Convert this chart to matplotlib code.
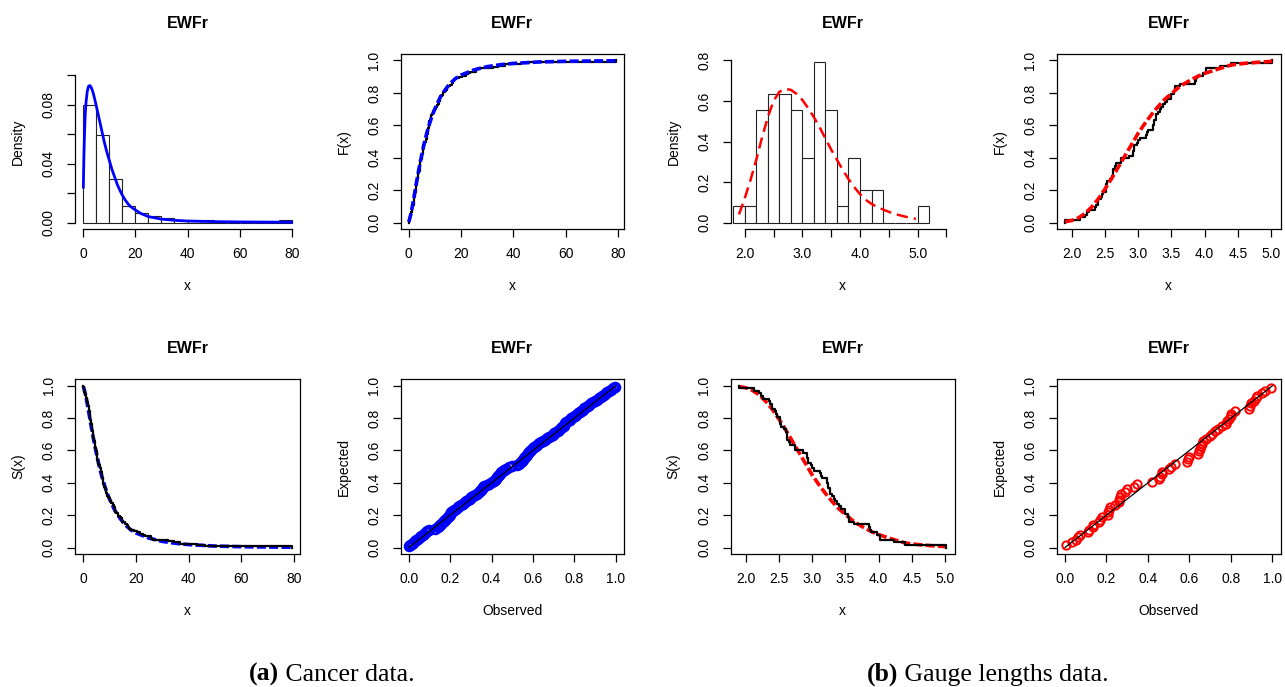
import numpy as np
import matplotlib
matplotlib.use('Agg')
import matplotlib.pyplot as plt

plt.rcParams['font.family'] = ['Liberation Sans', 'DejaVu Sans']

# bladder cancer remission times (n=128)
cancer = [0.08, 2.09, 3.48, 4.87, 6.94, 8.66, 13.11, 23.63, 0.20, 2.23, 3.52, 4.98, 6.97, 9.02, 13.29,
          0.40, 2.26, 3.57, 5.06, 7.09, 9.22, 13.80, 25.74, 0.50, 2.46, 3.64, 5.09, 7.26, 9.47, 14.24, 25.82,
          0.51, 2.54, 3.70, 5.17, 7.28, 9.74, 14.76, 26.31, 0.81, 2.62, 3.82, 5.32, 7.32, 10.06, 14.77, 32.15,
          2.64, 3.88, 5.32, 7.39, 10.34, 14.83, 34.26, 0.90, 2.69, 4.18, 5.34, 7.59, 10.66, 15.96, 36.66,
          1.05, 2.69, 4.23, 5.41, 7.62, 10.75, 16.62, 43.01, 1.19, 2.75, 4.26, 5.41, 7.63, 17.12, 46.12,
          1.26, 2.83, 4.33, 5.49, 7.66, 11.25, 17.14, 79.05, 1.35, 2.87, 5.62, 7.87, 11.64, 17.36,
          1.40, 3.02, 4.34, 5.71, 7.93, 11.79, 18.10, 1.46, 4.40, 5.85, 8.26, 11.98, 19.13,
          1.76, 3.25, 4.50, 6.25, 8.37, 12.02, 2.02, 3.31, 4.51, 6.54, 8.53, 12.03, 20.28,
          2.02, 3.36, 6.76, 12.07, 21.73, 2.07, 3.36, 6.93, 8.65, 12.63, 22.69]

# gauge lengths data (n=63)
gauge = [1.901, 2.132, 2.203, 2.228, 2.257, 2.350, 2.361, 2.396, 2.397, 2.445, 2.454, 2.474, 2.518,
         2.522, 2.525, 2.532, 2.575, 2.614, 2.616, 2.618, 2.624, 2.659, 2.675, 2.738, 2.740, 2.856,
         2.917, 2.928, 2.937, 2.937, 2.977, 2.996, 3.030, 3.125, 3.139, 3.145, 3.220, 3.223, 3.235,
         3.243, 3.264, 3.272, 3.294, 3.332, 3.346, 3.377, 3.408, 3.435, 3.493, 3.501, 3.537, 3.554,
         3.562, 3.628, 3.852, 3.871, 3.886, 3.971, 4.024, 4.027, 4.225, 4.395, 5.020]

# fitted EWFr curves
cancer_pdf_x = [0, 0.25, 0.5, 0.75, 1, 1.5, 2, 2.5, 3, 3.5, 4, 5, 6, 7, 8, 9, 10, 11, 12, 13, 14, 15,
                16, 17, 18, 20, 22, 25, 30, 35, 40, 50, 60, 70, 80]
cancer_pdf_y = [0.024, 0.047, 0.063, 0.074, 0.081, 0.089, 0.0925, 0.093, 0.0918, 0.0895, 0.0865, 0.079,
                0.071, 0.063, 0.055, 0.048, 0.042, 0.036, 0.031, 0.026, 0.022, 0.0185, 0.0155, 0.013,
                0.011, 0.0085, 0.0062, 0.004, 0.0023, 0.0015, 0.001, 0.0006, 0.0004, 0.0003, 0.0002]
cancer_cdf_x = [0.08, 1, 2, 3, 4, 5, 6, 7, 8, 9, 10, 12, 14, 16, 18, 20, 25, 30, 35, 40, 50, 60, 70, 79.05]
cancer_cdf_y = [0.003, 0.06, 0.15, 0.245, 0.335, 0.415, 0.49, 0.555, 0.61, 0.66, 0.70, 0.77, 0.82, 0.86,
                0.89, 0.91, 0.942, 0.962, 0.974, 0.982, 0.991, 0.995, 0.997, 0.998]

gauge_pdf_x = [1.90, 2.0, 2.1, 2.2, 2.3, 2.4, 2.5, 2.6, 2.7, 2.8, 2.9, 3.0, 3.1, 3.2, 3.3, 3.4, 3.5, 3.6,
               3.7, 3.8, 3.9, 4.0, 4.1, 4.2, 4.3, 4.4, 4.5, 4.6, 4.7, 4.8, 4.9, 4.97]
gauge_pdf_y = [0.04, 0.12, 0.21, 0.31, 0.42, 0.52, 0.60, 0.645, 0.66, 0.655, 0.635, 0.605, 0.565, 0.52,
               0.47, 0.415, 0.36, 0.31, 0.26, 0.215, 0.175, 0.14, 0.112, 0.092, 0.077, 0.064, 0.053,
               0.043, 0.035, 0.028, 0.022, 0.018]
gauge_cdf_x = [1.901, 2.0, 2.1, 2.2, 2.3, 2.4, 2.5, 2.6, 2.7, 2.8, 2.9, 3.0, 3.1, 3.2, 3.3, 3.4, 3.5,
               3.6, 3.7, 3.8, 3.9, 4.0, 4.2, 4.4, 4.6, 4.8, 5.02]
gauge_cdf_y = [0.005, 0.012, 0.028, 0.055, 0.095, 0.145, 0.205, 0.27, 0.34, 0.41, 0.48, 0.55, 0.61,
               0.665, 0.715, 0.76, 0.795, 0.83, 0.858, 0.882, 0.903, 0.92, 0.947, 0.972, 0.982, 0.989, 0.995]

# P-P plot: observed (fitted cdf at ordered data)
cancer_pp_obs = [0.003, 0.008, 0.014, 0.022, 0.028, 0.035, 0.043, 0.052, 0.060, 0.068, 0.075, 0.083, 0.090, 0.098,
                 0.125, 0.14, 0.148, 0.152, 0.158, 0.163, 0.17, 0.176, 0.182, 0.188, 0.193, 0.197, 0.20, 0.205, 0.212, 0.22,
                 0.23, 0.238, 0.245, 0.254, 0.262, 0.27, 0.278, 0.287, 0.295, 0.303, 0.312, 0.322, 0.33, 0.34, 0.345,
                 0.35, 0.355, 0.36, 0.365,
                 0.378, 0.39, 0.40, 0.41, 0.418, 0.423, 0.428, 0.432, 0.436, 0.441, 0.447, 0.455, 0.462, 0.47, 0.485,
                 0.50, 0.525, 0.535, 0.542, 0.548, 0.553, 0.558, 0.563, 0.568, 0.572, 0.576, 0.58, 0.585, 0.592, 0.60, 0.607,
                 0.615, 0.622, 0.63, 0.64, 0.65, 0.66, 0.668, 0.677, 0.686, 0.695, 0.703, 0.712, 0.72, 0.728, 0.735,
                 0.742, 0.748,
                 0.752, 0.756, 0.762, 0.77, 0.778, 0.786, 0.795, 0.803, 0.81, 0.818, 0.825, 0.832, 0.84, 0.848, 0.856, 0.864,
                 0.872, 0.88, 0.89, 0.90, 0.91, 0.918, 0.927, 0.935, 0.944, 0.952, 0.96, 0.968, 0.977, 0.988, 0.998]
gauge_pp_obs = [0.003, 0.035, 0.055, 0.063, 0.072, 0.112, 0.118, 0.135, 0.135, 0.165,
                0.17, 0.18, 0.205, 0.208, 0.21, 0.215, 0.24, 0.26, 0.262, 0.265,
                0.27, 0.29, 0.30, 0.335, 0.345, 0.42, 0.455, 0.46, 0.47, 0.47,
                0.50, 0.51, 0.53, 0.59, 0.595, 0.60, 0.64, 0.645, 0.65, 0.655,
                0.66, 0.665, 0.68, 0.70, 0.71, 0.725, 0.74, 0.755, 0.775, 0.78,
                0.79, 0.80, 0.80, 0.82, 0.885, 0.89, 0.895, 0.91, 0.92, 0.925,
                0.95, 0.965, 0.995]

W, H = 1285, 687
fig = plt.figure(figsize=(12.85, 6.87), dpi=100)

cols = [(75, 300), (400.5, 624), (730.7, 954.7), (1056.7, 1280.7)]
rows = [(54, 229), (379.3, 554)]


def add_ax(c, r):
    l, rr = cols[c]
    t, b = rows[r]
    ax = fig.add_axes([l / W, 1 - b / H, (rr - l) / W, (b - t) / H])
    ax._pxw, ax._pxh = rr - l, b - t
    return ax


def rlim(lo, hi):
    d = 0.04 * (hi - lo)
    return lo - d, hi + d


def style(ax, xt, xl, yt, yl, xlab, ylab, box=True):
    ax.set_xticks(xt)
    ax.set_xticklabels(xl)
    ax.set_yticks(yt)
    ax.set_yticklabels(yl, rotation=90, va='center')
    ax.tick_params(direction='out', length=6, width=0.9, labelsize=10)
    ax.tick_params(axis='x', pad=7)
    ax.tick_params(axis='y', pad=8)
    for s in ax.spines.values():
        s.set_linewidth(0.9)
    if not box:
        ax.spines['top'].set_visible(False)
        ax.spines['right'].set_visible(False)
        ax.spines['left'].set_bounds(yt[0], yt[-1])
        ax.spines['bottom'].set_bounds(xt[0], xt[-1])
    w, h = ax._pxw, ax._pxh
    ax.text(0.5, -57 / h, xlab, transform=ax.transAxes, ha='center', va='center', fontsize=10)
    ax.text(-57 / w, 0.5, ylab, transform=ax.transAxes, ha='center', va='center', rotation=90, fontsize=10)
    ax.text(0.5, 1 + 31 / h, 'EWFr', transform=ax.transAxes, ha='center', va='center',
            fontsize=11.5, fontweight='bold')


def fmt(vals, fmtstr, keep=None):
    return [fmtstr.format(v) if (keep is None or i in keep) else '' for i, v in enumerate(vals)]


blue = '#0000ff'
red = '#ff0000'
unit_ticks = [0, 0.2, 0.4, 0.6, 0.8, 1.0]
unit_labels = fmt(unit_ticks, '{:.1f}')

# ---- (a) cancer: histogram + density
ax = add_ax(0, 0)
ax.hist(cancer, bins=np.arange(0, 85, 5), density=True, facecolor='white', edgecolor='#222222', linewidth=0.8)
ax.plot(cancer_pdf_x, cancer_pdf_y, color=blue, lw=2.0)
ax.set_xlim(rlim(0, 80))
ax.set_ylim(rlim(0, 0.11))
yt = [0, 0.02, 0.04, 0.06, 0.08, 0.10]
style(ax, [0, 20, 40, 60, 80], ['0', '20', '40', '60', '80'], yt, fmt(yt, '{:.2f}', keep=[0, 2, 4]),
      'x', 'Density', box=False)

# ---- (a) cancer: cdf
ax = add_ax(1, 0)
ax.ecdf(cancer, color='black', lw=1.6)
ax.plot(cancer_cdf_x, cancer_cdf_y, color=blue, lw=2.6, ls=(0, (2.5, 0.9)))
ax.set_xlim(rlim(min(cancer), max(cancer)))
ax.set_ylim(rlim(0, 1))
style(ax, [0, 20, 40, 60, 80], ['0', '20', '40', '60', '80'], unit_ticks, unit_labels, 'x', 'F(x)')

# ---- (a) cancer: survival
ax = add_ax(0, 1)
ax.plot(cancer_cdf_x, 1 - np.array(cancer_cdf_y), color=blue, lw=2.6, ls=(0, (2.5, 0.9)))
ax.ecdf(cancer, complementary=True, color='black', lw=1.6)
ax.set_xlim(rlim(min(cancer), max(cancer)))
ax.set_ylim(rlim(0, 1))
style(ax, [0, 20, 40, 60, 80], ['0', '20', '40', '60', '80'], unit_ticks, unit_labels, 'x', 'S(x)')

# ---- (a) cancer: P-P
ax = add_ax(1, 1)
n = len(cancer_pp_obs)
ax.plot(cancer_pp_obs, np.arange(1, n + 1) / (n + 1), 'o', mfc='none', mec=blue, ms=6.5, mew=1.8)
ax.plot([0, 1], [0, 1], color='black', lw=0.9)
ax.set_xlim(rlim(0, 1))
ax.set_ylim(rlim(0, 1))
style(ax, unit_ticks, unit_labels, unit_ticks, unit_labels, 'Observed', 'Expected')

# ---- (b) gauge: histogram + density
ax = add_ax(2, 0)
ax.hist(gauge, bins=np.linspace(1.8, 5.2, 18), density=True, facecolor='white', edgecolor='#222222', linewidth=0.8)
ax.plot(gauge_pdf_x, gauge_pdf_y, color=red, lw=1.8, ls=(0, (4.5, 2.4)))
ax.set_xlim(rlim(1.9, 5.5))
ax.set_ylim(rlim(0, 0.8))
xt = [2.0, 2.5, 3.0, 3.5, 4.0, 4.5, 5.0, 5.5]
yt = [0, 0.2, 0.4, 0.6, 0.8]
style(ax, xt, fmt(xt, '{:.1f}', keep=[0, 2, 4, 6]), yt, fmt(yt, '{:.1f}'), 'x', 'Density', box=False)

# ---- (b) gauge: cdf
xt = [2.0, 2.5, 3.0, 3.5, 4.0, 4.5, 5.0]
ax = add_ax(3, 0)
ax.ecdf(gauge, color='black', lw=1.6)
ax.plot(gauge_cdf_x, gauge_cdf_y, color=red, lw=2.6, ls=(0, (2.5, 0.9)))
ax.set_xlim(rlim(min(gauge), max(gauge)))
ax.set_ylim(rlim(0, 1))
style(ax, xt, fmt(xt, '{:.1f}'), unit_ticks, unit_labels, 'x', 'F(x)')

# ---- (b) gauge: survival
ax = add_ax(2, 1)
ax.plot(gauge_cdf_x, 1 - np.array(gauge_cdf_y), color=red, lw=2.6, ls=(0, (2.5, 0.9)))
ax.ecdf(gauge, complementary=True, color='black', lw=1.6)
ax.set_xlim(rlim(min(gauge), max(gauge)))
ax.set_ylim(rlim(0, 1))
style(ax, xt, fmt(xt, '{:.1f}'), unit_ticks, unit_labels, 'x', 'S(x)')

# ---- (b) gauge: P-P
ax = add_ax(3, 1)
n = len(gauge_pp_obs)
ax.plot(gauge_pp_obs, np.arange(1, n + 1) / (n + 1), 'o', mfc='none', mec=red, ms=6, mew=1.4)
ax.plot([0, 1], [0, 1], color='black', lw=0.9)
ax.set_xlim(rlim(0, 1))
ax.set_ylim(rlim(0, 1))
style(ax, unit_ticks, unit_labels, unit_ticks, unit_labels, 'Observed', 'Expected')

# sub-captions
renderer = fig.canvas.get_renderer()


def caption(cx, bold, rest):
    kw = dict(family=['Liberation Serif', 'DejaVu Serif'], fontsize=18.5, va='baseline')
    t1 = fig.text(0, 1 - 681 / H, bold, fontweight='bold', **kw)
    t2 = fig.text(0, 1 - 681 / H, ' ' + rest, **kw)
    w1 = t1.get_window_extent(renderer).width
    w2 = t2.get_window_extent(renderer).width
    x0 = cx - (w1 + w2) / 2
    t1.set_x(x0 / W)
    t2.set_x((x0 + w1) / W)


caption(332, '(a)', 'Cancer data.')
caption(988, '(b)', 'Gauge lengths data.')

fig.savefig('out.png', dpi=100)
